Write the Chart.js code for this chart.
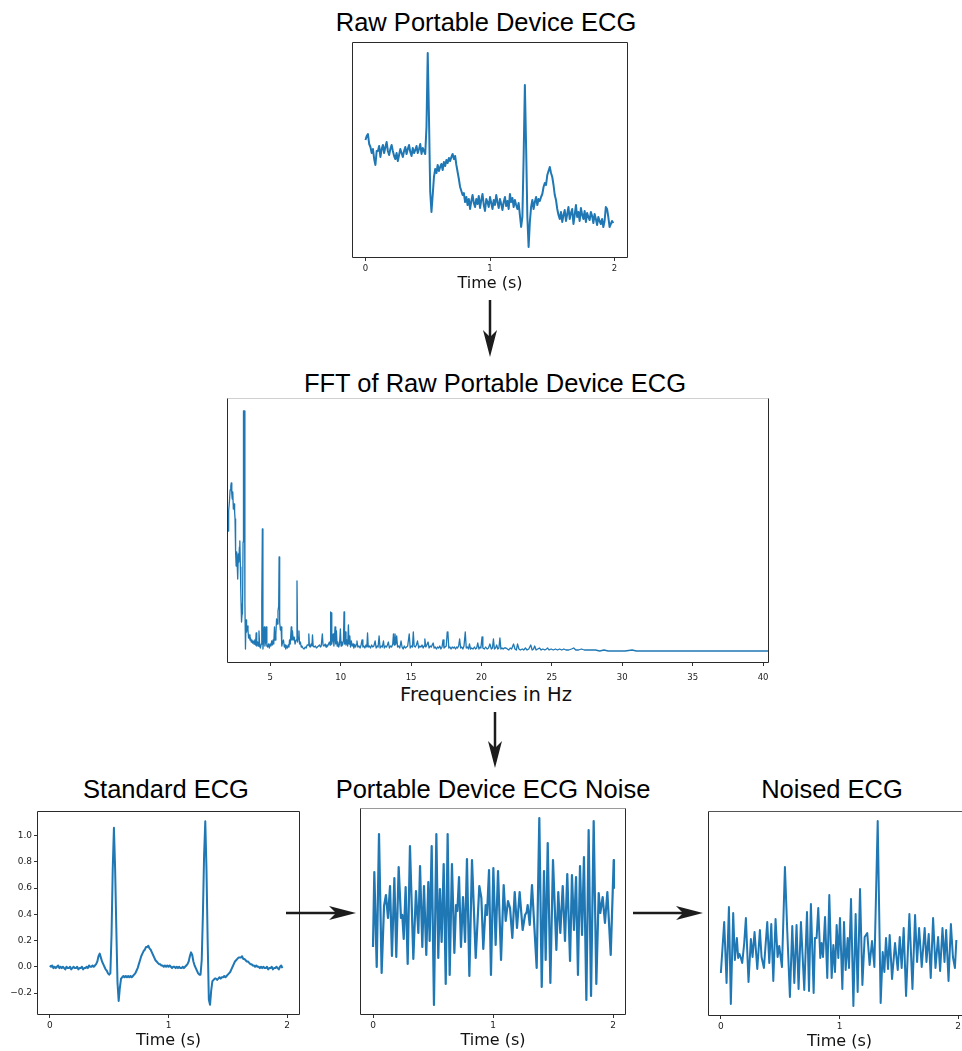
<!DOCTYPE html>
<html>
<head>
<meta charset="utf-8">
<script src="https://cdn.jsdelivr.net/npm/chart.js@4.4.1/dist/chart.umd.min.js"></script>
<style>
  html, body { margin: 0; padding: 0; width: 962px; height: 1051px; overflow: hidden; background: #fff; }
  canvas { position: absolute; }
  .title { position: absolute; font-family: 'Liberation Sans', Arial, sans-serif; font-size: 25.5px; line-height: 25.5px; color: #000; white-space: nowrap; transform: translateX(-50%); }
  .axis-label { position: absolute; font-family: 'DejaVu Sans', sans-serif; font-size: 19.5px; line-height: 20px; color: #111; white-space: nowrap; transform: translateX(-50%); }
  svg { position: absolute; left: 0; top: 0; }
</style>
</head>
<body>
<div class="title" style="left:486px; top:10px">Raw Portable Device ECG</div>
<div class="title" style="left:495px; top:371px">FFT of Raw Portable Device ECG</div>
<div class="title" style="left:166px; top:777px">Standard ECG</div>
<div class="title" style="left:493px; top:777px">Portable Device ECG Noise</div>
<div class="title" style="left:832px; top:777px">Noised ECG</div>
<div class="axis-label" style="left:486px; top:685px">Frequencies in Hz</div>

<canvas id="raw" width="294" height="260" style="left:343px; top:33px"></canvas>
<canvas id="fft" width="560" height="317" style="left:218px; top:389px"></canvas>
<canvas id="std" width="309" height="248" style="left:0px; top:802px"></canvas>
<canvas id="noise" width="284" height="251" style="left:351px; top:799px"></canvas>
<canvas id="noised" width="281" height="249" style="left:699px; top:802px"></canvas>

<svg width="962" height="1051">
  <g stroke="#1c1c1c" stroke-width="2.5">
    <line x1="490" y1="300" x2="490" y2="342"/>
    <line x1="495" y1="712" x2="495" y2="752"/>
    <line x1="286" y1="913" x2="340" y2="913"/>
    <line x1="633" y1="913" x2="688" y2="913"/>
  </g>
  <g fill="#1c1c1c">
    <polygon points="490,357 483,330 490,337 497,330"/>
    <polygon points="495,768 488,741 495,748 502,741"/>
    <polygon points="356,913 329,906 336,913 329,920"/>
    <polygon points="703,913 676,906 683,913 676,920"/>
  </g>
</svg>

<script>
'use strict';
// raw portable device ECG, one sample every 10 ms (arbitrary units)
const rawStep = 0.01;
const rawValues = [
  117, 121, 123, 113, 110, 104, 108, 98, 92, 106,
  106, 111, 100, 108, 112, 104, 110, 115, 106, 102,
  108, 112, 106, 101, 98, 104, 96, 102, 108, 104,
  100, 106, 110, 103, 108, 112, 105, 101, 109, 104,
  107, 111, 104, 108, 113, 103, 109, 106, 103, 130,
  204, 140, 65, 45, 62, 80, 88, 84, 92, 86,
  90, 93, 87, 95, 91, 97, 94, 99, 96, 100,
  103, 98, 101, 92, 85, 78, 70, 66, 62, 64,
  55, 60, 52, 58, 48, 56, 62, 54, 50, 58,
  53, 61, 49, 57, 63, 52, 46, 58, 55, 50,
  60, 54, 48, 57, 52, 62, 55, 49, 58, 53,
  47, 55, 60, 51, 56, 48, 63, 55, 59, 50,
  57, 52, 48, 54, 42, 30, 40, 100, 172, 110,
  40, 10, 35, 50, 57, 48, 55, 60, 52, 58,
  56, 60, 63, 70, 74, 72, 82, 86, 90, 84,
  80, 72, 62, 57, 48, 42, 38, 45, 35, 42,
  47, 36, 43, 50, 38, 44, 48, 33, 42, 52,
  40, 45, 36, 49, 42, 38, 46, 35, 44, 40,
  37, 45, 41, 34, 43, 38, 32, 40, 36, 33,
  38, 30, 36, 50, 48, 40, 30, 33, 36, 34
];
const rawTicks = [0, 1, 2];

// FFT magnitude (arbitrary units) against frequency in Hz
const fftHz = [
  2.00, 2.03, 2.06, 2.10, 2.15, 2.20, 2.23, 2.27, 2.30, 2.34,
  2.38, 2.43, 2.47, 2.50, 2.54, 2.58, 2.62, 2.66, 2.69, 2.73,
  2.77, 2.81, 2.84, 2.88, 2.91, 2.93, 2.96, 3.00, 3.03, 3.07,
  3.10, 3.16, 3.20, 3.24, 3.28, 3.32, 3.36, 3.42, 3.46, 3.50,
  3.56, 3.60, 3.65, 3.70, 3.75, 3.80, 3.85, 3.90, 3.95, 4.00,
  4.04, 4.10, 4.16, 4.20, 4.25, 4.30, 4.36, 4.40, 4.44, 4.48,
  4.53, 4.58, 4.62, 4.67, 4.72, 4.76, 4.82, 4.88, 4.94, 4.99,
  5.05, 5.10, 5.15, 5.20, 5.25, 5.30, 5.34, 5.40, 5.45, 5.50,
  5.55, 5.60, 5.63, 5.67, 5.72, 5.77, 5.82, 5.88, 5.94, 6.00,
  6.05, 6.10, 6.16, 6.22, 6.28, 6.33, 6.37, 6.42, 6.49, 6.53,
  6.58, 6.63, 6.70, 6.76, 6.84, 6.90, 6.94, 7.00, 7.04, 7.08,
  7.14, 7.20, 7.25, 7.32, 7.40, 7.48, 7.55, 7.62, 7.70, 7.74,
  7.78, 7.84, 7.90, 7.96, 8.00, 8.05, 8.12, 8.20, 8.28, 8.35,
  8.42, 8.50, 8.56, 8.62, 8.70, 8.75, 8.82, 8.90, 8.96, 9.02,
  9.08, 9.14, 9.20, 9.25, 9.29, 9.33, 9.37, 9.42, 9.47, 9.52,
  9.56, 9.60, 9.65, 9.70, 9.75, 9.80, 9.86, 9.92, 9.98, 10.03,
  10.08, 10.14, 10.20, 10.24, 10.28, 10.33, 10.38, 10.44, 10.50, 10.55,
  10.60, 10.65, 10.70, 10.76, 10.82, 10.88, 10.94, 11.00, 11.06, 11.12,
  11.16, 11.22, 11.30, 11.38, 11.45, 11.52, 11.58, 11.65, 11.72, 11.80,
  11.86, 11.91, 11.96, 12.04, 12.12, 12.20, 12.28, 12.36, 12.45, 12.52,
  12.60, 12.66, 12.73, 12.80, 12.88, 12.96, 13.04, 13.10, 13.18, 13.26,
  13.32, 13.39, 13.46, 13.54, 13.62, 13.70, 13.75, 13.80, 13.86, 13.92,
  13.98, 14.04, 14.12, 14.20, 14.29, 14.36, 14.44, 14.52, 14.60, 14.68,
  14.76, 14.87, 14.94, 15.02, 15.10, 15.16, 15.22, 15.30, 15.38, 15.46,
  15.54, 15.62, 15.70, 15.78, 15.86, 15.92, 15.98, 16.05, 16.12, 16.21,
  16.28, 16.36, 16.44, 16.50, 16.57, 16.64, 16.72, 16.80, 16.88, 16.96,
  17.04, 17.12, 17.20, 17.27, 17.34, 17.42, 17.50, 17.57, 17.62, 17.68,
  17.76, 17.84, 17.92, 18.00, 18.08, 18.16, 18.24, 18.30, 18.38, 18.45,
  18.52, 18.60, 18.68, 18.76, 18.85, 18.92, 19.00, 19.08, 19.15, 19.22,
  19.30, 19.40, 19.50, 19.58, 19.66, 19.74, 19.82, 19.90, 19.96, 20.04,
  20.10, 20.20, 20.30, 20.40, 20.50, 20.60, 20.70, 20.78, 20.85, 20.92,
  21.00, 21.08, 21.16, 21.24, 21.31, 21.38, 21.46, 21.54, 21.62, 21.74,
  21.84, 21.94, 22.04, 22.14, 22.28, 22.38, 22.48, 22.56, 22.66, 22.76,
  22.90, 23.00, 23.12, 23.24, 23.36, 23.50, 23.60, 23.70, 23.78, 23.88,
  24.00, 24.12, 24.24, 24.36, 24.50, 24.62, 24.70, 24.80, 24.95, 25.10,
  25.25, 25.40, 25.55, 25.70, 25.85, 26.00, 26.20, 26.40, 26.55, 26.70,
  26.90, 27.10, 27.30, 27.50, 27.80, 28.10, 28.40, 28.70, 29.00, 29.40,
  29.80, 30.20, 30.70, 31.00, 32.00, 33.00, 34.00, 36.00, 38.00, 40.40
];
const fftMag = [
  131, 150, 151, 160, 172, 176, 179, 168, 163, 170,
  153, 158, 150, 143, 110, 96, 110, 95, 83, 108,
  100, 115, 121, 95, 70, 58, 40, 48, 51, 120,
  251, 251, 60, 13, 42, 30, 36, 32, 24, 27,
  22, 24, 20, 22, 19, 21, 18, 22, 17, 29,
  16, 20, 16, 31, 16, 14, 18, 60, 133, 13,
  22, 35, 16, 20, 35, 16, 15, 18, 14, 18,
  16, 21, 17, 22, 18, 35, 22, 28, 43, 38,
  51, 56, 105, 40, 32, 35, 16, 20, 22, 15,
  17, 13, 16, 14, 17, 15, 22, 18, 35, 22,
  31, 22, 25, 18, 22, 81, 20, 25, 31, 18,
  20, 15, 16, 14, 13, 15, 14, 17, 17, 28,
  16, 15, 18, 16, 27, 16, 15, 16, 14, 15,
  16, 17, 15, 16, 28, 17, 16, 18, 15, 17,
  16, 18, 20, 17, 50, 49, 18, 22, 28, 16,
  23, 35, 18, 31, 16, 20, 15, 18, 33, 16,
  20, 17, 22, 50, 18, 30, 17, 22, 16, 37,
  18, 26, 15, 21, 16, 18, 14, 17, 15, 18,
  21, 15, 16, 14, 17, 22, 15, 16, 14, 17,
  15, 29, 15, 16, 14, 17, 15, 16, 21, 14,
  16, 15, 26, 14, 16, 15, 21, 14, 16, 15,
  17, 20, 14, 16, 15, 18, 28, 17, 28, 18,
  26, 15, 16, 14, 21, 15, 13, 16, 14, 15,
  16, 28, 14, 16, 15, 30, 16, 15, 17, 21,
  14, 16, 15, 17, 14, 16, 23, 15, 17, 20,
  14, 16, 15, 17, 19, 14, 15, 13, 15, 14,
  16, 13, 15, 22, 14, 15, 16, 30, 29, 14,
  15, 13, 15, 14, 15, 13, 15, 14, 16, 23,
  14, 15, 13, 16, 30, 14, 15, 13, 18, 13,
  14, 13, 15, 13, 14, 19, 13, 15, 14, 25,
  14, 13, 15, 13, 14, 18, 13, 14, 23, 13,
  14, 17, 13, 14, 24, 13, 14, 13, 14, 14,
  13, 12, 14, 13, 18, 13, 12, 18, 13, 12,
  13, 12, 14, 12, 13, 17, 12, 13, 16, 12,
  13, 14, 12, 13, 12, 13, 14, 12, 13, 12,
  13, 12, 13, 12, 13, 12, 12, 13, 14, 12,
  12, 13, 12, 12, 12, 12, 11, 12, 11, 11,
  11, 11, 12, 11, 11, 11, 11, 11, 11, 11
];
const fftTicks = [5, 10, 15, 20, 25, 30, 35, 40];

// standard ECG in mV, one sample every 10 ms
const stdStep = 0.01;
const stdValues = [
  0.01, 0.00, 0.01, -0.01, 0.00, -0.01, 0.00, 0.01, -0.01, 0.00,
  -0.01, 0.00, -0.01, -0.02, 0.00, -0.01, -0.01, 0.00, -0.02, -0.01,
  0.00, -0.01, -0.01, 0.00, -0.02, -0.01, -0.01, 0.00, -0.02, -0.01,
  -0.01, 0.00, -0.01, 0.01, 0.00, 0.00, 0.01, 0.00, 0.01, 0.02,
  0.04, 0.08, 0.10, 0.07, 0.04, 0.02, 0.00, -0.02, -0.03, -0.05,
  -0.06, -0.05, 0.25, 0.75, 1.06, 0.75, 0.30, -0.12, -0.26, -0.16,
  -0.09, -0.08, -0.07, -0.08, -0.07, -0.08, -0.07, -0.08, -0.07, -0.08,
  -0.07, -0.06, -0.05, -0.03, -0.01, 0.02, 0.05, 0.08, 0.10, 0.12,
  0.13, 0.15, 0.15, 0.16, 0.14, 0.13, 0.11, 0.09, 0.07, 0.05,
  0.04, 0.03, 0.02, 0.02, 0.01, 0.01, 0.00, 0.01, 0.00, 0.01,
  0.00, 0.01, 0.00, -0.01, 0.00, 0.00, -0.01, 0.00, -0.01, 0.00,
  -0.01, -0.01, 0.00, -0.01, 0.00, 0.01, 0.02, 0.04, 0.08, 0.11,
  0.09, 0.04, 0.01, -0.01, -0.03, -0.05, -0.06, -0.06, 0.05, 0.40,
  0.85, 1.11, 0.75, 0.20, -0.25, -0.29, -0.18, -0.11, -0.10, -0.09,
  -0.09, -0.10, -0.09, -0.08, -0.09, -0.08, -0.08, -0.07, -0.08, -0.07,
  -0.06, -0.05, -0.04, -0.02, 0.00, 0.02, 0.04, 0.05, 0.06, 0.07,
  0.07, 0.07, 0.08, 0.06, 0.06, 0.05, 0.04, 0.04, 0.03, 0.02,
  0.02, 0.01, 0.01, 0.00, 0.01, 0.00, 0.00, -0.01, 0.00, -0.01,
  0.00, -0.01, -0.01, 0.00, -0.02, -0.01, -0.01, 0.00, -0.02, -0.01,
  -0.01, 0.00, -0.01, -0.02, 0.00, 0.01, -0.01
];
const stdYTicks = [-0.2, 0.0, 0.2, 0.4, 0.6, 0.8, 1.0];
const stdYLabels = ['\u22120.2', '0.0', '0.2', '0.4', '0.6', '0.8', '1.0'];

// portable device noise (arbitrary units)
const noiseTime = [
  0, 0.011, 0.031, 0.05, 0.072, 0.092, 0.108, 0.125, 0.142, 0.158,
  0.178, 0.194, 0.214, 0.233, 0.244, 0.256, 0.272, 0.289, 0.308, 0.336,
  0.358, 0.378, 0.392, 0.411, 0.425, 0.444, 0.461, 0.472, 0.489, 0.508,
  0.528, 0.544, 0.558, 0.572, 0.589, 0.606, 0.622, 0.639, 0.658, 0.678,
  0.692, 0.703, 0.717, 0.733, 0.75, 0.767, 0.783, 0.803, 0.825, 0.856,
  0.886, 0.903, 0.919, 0.939, 0.95, 0.967, 0.983, 1.003, 1.022, 1.042,
  1.067, 1.089, 1.106, 1.125, 1.142, 1.161, 1.181, 1.2, 1.222, 1.247,
  1.267, 1.281, 1.289, 1.306, 1.325, 1.364, 1.386, 1.406, 1.425, 1.439,
  1.456, 1.478, 1.5, 1.528, 1.544, 1.561, 1.581, 1.6, 1.619, 1.642,
  1.658, 1.675, 1.692, 1.708, 1.725, 1.742, 1.758, 1.778, 1.797, 1.817,
  1.839, 1.861, 1.881, 1.894, 1.914, 1.933, 1.953, 1.981, 2.006, 2.008
];
const noiseValues = [
  67, 142, 47, 180, 41, 108, 119, 96, 128, 58,
  136, 57, 147, 96, 99, 75, 127, 50, 168, 55,
  123, 81, 148, 67, 128, 59, 132, 73, 168, 9,
  180, 56, 125, 72, 150, 30, 180, 39, 150, 61,
  109, 103, 137, 67, 117, 72, 155, 38, 154, 56,
  128, 116, 65, 109, 99, 144, 39, 146, 69, 143,
  54, 129, 93, 113, 106, 76, 122, 86, 122, 84,
  99, 102, 109, 89, 129, 46, 196, 27, 143, 54,
  171, 31, 154, 64, 122, 81, 128, 73, 140, 53,
  139, 84, 137, 39, 148, 79, 157, 14, 184, 18,
  193, 30, 121, 101, 117, 91, 122, 59, 154, 126
];

// standard ECG plus the device noise (arbitrary units)
const noisedTime = [
  0, 0.028, 0.048, 0.068, 0.084, 0.104, 0.118, 0.135, 0.146, 0.157,
  0.169, 0.18, 0.197, 0.211, 0.233, 0.253, 0.267, 0.284, 0.307, 0.329,
  0.343, 0.363, 0.391, 0.408, 0.425, 0.442, 0.461, 0.478, 0.492, 0.515,
  0.54, 0.56, 0.582, 0.602, 0.619, 0.638, 0.655, 0.675, 0.703, 0.726,
  0.743, 0.759, 0.782, 0.793, 0.807, 0.821, 0.838, 0.849, 0.861, 0.878,
  0.897, 0.914, 0.934, 0.948, 0.962, 0.976, 0.99, 1.004, 1.024, 1.038,
  1.052, 1.069, 1.08, 1.097, 1.117, 1.136, 1.153, 1.173, 1.193, 1.212,
  1.234, 1.254, 1.274, 1.294, 1.322, 1.347, 1.364, 1.378, 1.392, 1.409,
  1.423, 1.443, 1.468, 1.491, 1.508, 1.524, 1.541, 1.561, 1.589, 1.615,
  1.637, 1.654, 1.671, 1.693, 1.718, 1.733, 1.752, 1.769, 1.789, 1.809,
  1.831, 1.848, 1.868, 1.885, 1.899, 1.919, 1.939, 1.956, 1.973, 1.985
];
const noisedValues = [
  42, 93, 32, 108, 11, 102, 55, 77, 57, 61,
  57, 52, 72, 97, 33, 76, 58, 83, 46, 85,
  58, 47, 93, 52, 91, 34, 96, 58, 69, 48,
  148, 83, 18, 89, 32, 90, 26, 93, 25, 103,
  24, 111, 22, 77, 77, 107, 57, 72, 58, 98,
  37, 120, 37, 70, 43, 90, 57, 97, 26, 93,
  45, 77, 47, 116, 9, 101, 23, 126, 30, 78,
  82, 50, 74, 48, 194, 12, 63, 43, 77, 46,
  80, 36, 72, 45, 78, 47, 87, 19, 101, 26,
  100, 53, 87, 48, 87, 53, 81, 37, 97, 47,
  78, 44, 87, 53, 85, 34, 91, 58, 47, 75
];
const timeTicks = [0, 1, 2];

const lineBlue = '#1f77b4';

// matplotlib style box round the plot area
const framePlugin = {
  id: 'frame',
  afterDatasetsDraw(chart, args, opts) {
    const a = chart.chartArea;
    const ctx = chart.ctx;
    const l = Math.round(a.left) - 0.5, r = Math.round(a.right) + 0.5;
    const t = Math.round(a.top) - 0.5, b = Math.round(a.bottom) + 0.5;
    ctx.save();
    ctx.lineWidth = 1;
    ctx.strokeStyle = opts.topColor || '#2a2a2a';
    ctx.beginPath(); ctx.moveTo(l, t); ctx.lineTo(r, t); ctx.stroke();
    ctx.strokeStyle = '#2a2a2a';
    ctx.beginPath(); ctx.moveTo(r, t); ctx.lineTo(r, b); ctx.lineTo(l, b); ctx.lineTo(l, t); ctx.stroke();
    ctx.restore();
  }
};

const xAxis = function(min, max, ticks, title, titleSize, tickSize, height, tickPad){
  return {
    type: 'linear',
    min: min,
    max: max,
    bounds: 'data',
    afterBuildTicks: scale => { scale.ticks = ticks.map(v => ({value: v})); },
    afterFit: scale => { scale.height = height; },
    grid: {display: true, drawOnChartArea: false, drawTicks: true, tickLength: 4, tickWidth: 1, color: '#333'},
    border: {display: false},
    ticks: {font: {family: 'DejaVu Sans', size: tickSize}, color: '#222', padding: tickPad, maxRotation: 0, autoSkip: false},
    title: {display: title !== '', text: title, font: {family: 'DejaVu Sans', size: titleSize}, color: '#111', padding: 0}
  };
};

const makeChart = function(id, points, width, x, y, pad, topColor){
  return new Chart(document.getElementById(id), {
    type: 'line',
    data: {
      datasets: [{
        data: points,
        borderColor: lineBlue,
        borderWidth: width,
        pointRadius: 0,
        tension: 0,
        borderJoinStyle: 'round',
        fill: false
      }]
    },
    options: {
      responsive: false,
      animation: false,
      devicePixelRatio: 1,
      parsing: false,
      layout: {padding: pad},
      scales: {x: x, y: y},
      plugins: {
        legend: {display: false},
        tooltip: {enabled: false},
        frame: {topColor: topColor}
      }
    },
    plugins: [framePlugin]
  });
};

const rawPoints = rawValues.map((v, i) => ({x: i * rawStep, y: v}));
const fftPoints = fftHz.map((f, i) => ({x: f, y: fftMag[i]}));
const stdPoints = stdValues.map((v, i) => ({x: i * stdStep, y: v}));
const noisePoints = noiseTime.map((t, i) => ({x: t, y: noiseValues[i]}));
const noisedPoints = noisedTime.map((t, i) => ({x: t, y: noisedValues[i]}));

makeChart('raw', rawPoints, 2,
  xAxis(-0.1, 2.1, rawTicks, 'Time (s)', 16, 8.5, 36, 3),
  {display: false, min: 0, max: 214},
  {left: 10, right: 10, top: 10, bottom: 0});

// the frequency axis label sits left of centre in the original, so it is an html label above
makeChart('fft', fftPoints, 1.3,
  xAxis(2, 40.35, fftTicks, '', 19, 8.5, 44, 7),
  {display: false, min: 0, max: 263},
  {left: 10, right: 10, top: 10, bottom: 0}, '#d0d0d0');

makeChart('std', stdPoints, 2,
  xAxis(-0.1, 2.1, timeTicks, 'Time (s)', 16, 9, 36, 2),
  {
    type: 'linear',
    min: -0.36,
    max: 1.18,
    afterBuildTicks: scale => { scale.ticks = stdYTicks.map(v => ({value: v})); },
    afterFit: scale => { scale.width = 38; },
    grid: {display: true, drawOnChartArea: false, drawTicks: true, tickLength: 4, tickWidth: 1, color: '#333'},
    border: {display: false},
    ticks: {font: {family: 'DejaVu Sans', size: 9}, color: '#222', padding: 2, autoSkip: false,
      callback: (v, i) => stdYLabels[i]}
  },
  {left: 0, right: 10, top: 10, bottom: 0});

makeChart('noise', noisePoints, 2.2,
  xAxis(-0.1, 2.1, timeTicks, 'Time (s)', 16, 9, 36, 2),
  {display: false, min: 0, max: 205},
  {left: 10, right: 10, top: 10, bottom: 0}, '#9a9a9a');

makeChart('noised', noisedPoints, 2,
  xAxis(-0.1, 2.1, timeTicks, 'Time (s)', 16, 9, 36, 2),
  {display: false, min: 0, max: 203},
  {left: 10, right: 10, top: 10, bottom: 0}, '#555');
</script>
</body>
</html>
